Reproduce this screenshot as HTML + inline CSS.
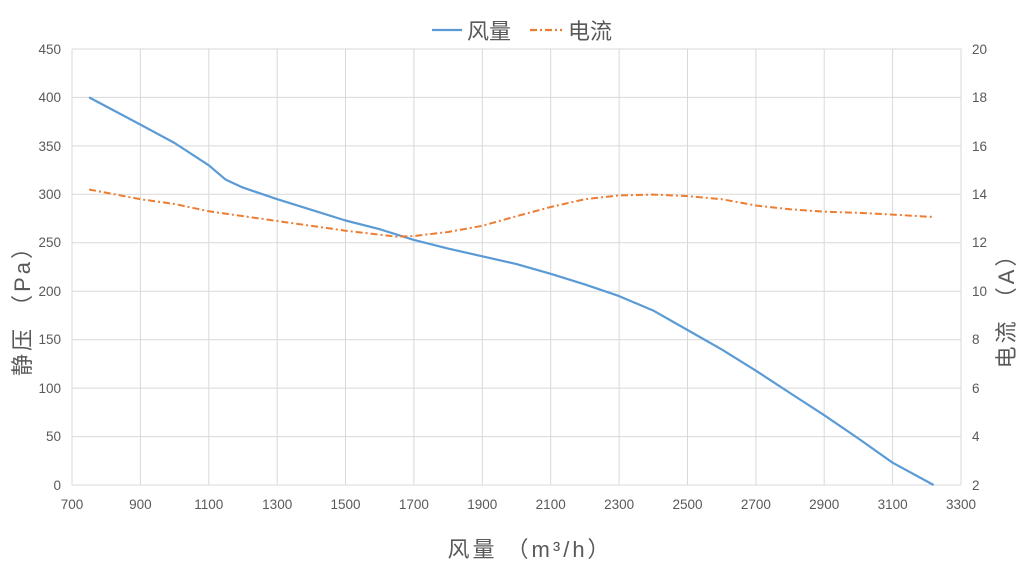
<!DOCTYPE html>
<html><head><meta charset="utf-8"><style>
body{margin:0;background:#fff;}
svg text{font-family:"Liberation Sans","Noto Sans CJK SC",sans-serif;fill:#595959;}
</style></head><body>
<svg width="1024" height="569" xmlns="http://www.w3.org/2000/svg">
<g stroke="#d9d9d9" stroke-width="1">
<line x1="72" y1="49" x2="961" y2="49"/><line x1="72" y1="97.4" x2="961" y2="97.4"/><line x1="72" y1="145.9" x2="961" y2="145.9"/><line x1="72" y1="194.3" x2="961" y2="194.3"/><line x1="72" y1="242.8" x2="961" y2="242.8"/><line x1="72" y1="291.2" x2="961" y2="291.2"/><line x1="72" y1="339.7" x2="961" y2="339.7"/><line x1="72" y1="388.1" x2="961" y2="388.1"/><line x1="72" y1="436.6" x2="961" y2="436.6"/><line x1="72" y1="485" x2="961" y2="485"/>
<line x1="72" y1="49" x2="72" y2="485"/><line x1="140.4" y1="49" x2="140.4" y2="485"/><line x1="208.8" y1="49" x2="208.8" y2="485"/><line x1="277.2" y1="49" x2="277.2" y2="485"/><line x1="345.5" y1="49" x2="345.5" y2="485"/><line x1="413.9" y1="49" x2="413.9" y2="485"/><line x1="482.3" y1="49" x2="482.3" y2="485"/><line x1="550.7" y1="49" x2="550.7" y2="485"/><line x1="619.1" y1="49" x2="619.1" y2="485"/><line x1="687.5" y1="49" x2="687.5" y2="485"/><line x1="755.9" y1="49" x2="755.9" y2="485"/><line x1="824.2" y1="49" x2="824.2" y2="485"/><line x1="892.6" y1="49" x2="892.6" y2="485"/><line x1="961" y1="49" x2="961" y2="485"/>
</g>
<g font-size="13.5" text-anchor="end">
<text x="61" y="54">450</text><text x="61" y="102">400</text><text x="61" y="151">350</text><text x="61" y="199">300</text><text x="61" y="247">250</text><text x="61" y="296">200</text><text x="61" y="344">150</text><text x="61" y="393">100</text><text x="61" y="441">50</text><text x="61" y="490">0</text>
</g>
<g font-size="13.5" text-anchor="start">
<text x="972" y="54">20</text><text x="972" y="102">18</text><text x="972" y="151">16</text><text x="972" y="199">14</text><text x="972" y="247">12</text><text x="972" y="296">10</text><text x="972" y="344">8</text><text x="972" y="393">6</text><text x="972" y="441">4</text><text x="972" y="490">2</text>
</g>
<g font-size="13.5" text-anchor="middle">
<text x="72" y="509">700</text><text x="140.4" y="509">900</text><text x="208.8" y="509">1100</text><text x="277.2" y="509">1300</text><text x="345.5" y="509">1500</text><text x="413.9" y="509">1700</text><text x="482.3" y="509">1900</text><text x="550.7" y="509">2100</text><text x="619.1" y="509">2300</text><text x="687.5" y="509">2500</text><text x="755.9" y="509">2700</text><text x="824.2" y="509">2900</text><text x="892.6" y="509">3100</text><text x="961" y="509">3300</text>
</g>
<text x="530" y="557" font-size="22" text-anchor="middle" letter-spacing="3">风量 （m³/h）</text>
<text transform="translate(30,305) rotate(-90)" font-size="22" text-anchor="middle" letter-spacing="3">静压 （Pa）</text>
<text transform="translate(1014,305) rotate(-90)" font-size="22" text-anchor="middle" letter-spacing="3">电流 （A）</text>
<line x1="432" y1="30" x2="462" y2="30" stroke="#5b9bd5" stroke-width="2.2"/>
<text x="467" y="39" font-size="22">风量</text>
<line x1="530" y1="30" x2="562" y2="30" stroke="#ed7d31" stroke-width="2.2" stroke-dasharray="7,3,2,3"/>
<text x="568" y="39" font-size="22">电流</text>
<polyline fill="none" stroke="#5b9bd5" stroke-width="2.2" stroke-linejoin="round" points="89.1,97.4 140.4,124.6 174.6,143 208.8,165.3 225.9,179.8 243,187.6 277.2,199.2 311.3,209.8 345.5,220.5 379.7,229.2 413.9,239.9 448.1,248.6 482.3,256.3 516.5,264.1 550.7,273.8 584.9,284.4 619.1,296.1 653.3,310.6 687.5,330 721.7,349.4 755.9,370.7 790,393 824.2,415.2 858.4,438.5 892.6,462.7 933.6,485"/>
<polyline fill="none" stroke="#ed7d31" stroke-width="2" stroke-dasharray="7,3,2,3" stroke-linejoin="round" points="89.1,189.5 140.4,199.2 174.6,204 208.8,211.3 277.2,221 345.5,230.7 396.8,236.7 413.9,236 448.1,232 482.3,225.8 516.5,216.2 550.7,207 584.9,199.2 619.1,195.4 653.3,194.6 687.5,196.1 721.7,199.2 755.9,205.5 790,209.3 824.2,211.7 858.4,212.8 892.6,214.6 933.6,217"/>
</svg>
</body></html>
